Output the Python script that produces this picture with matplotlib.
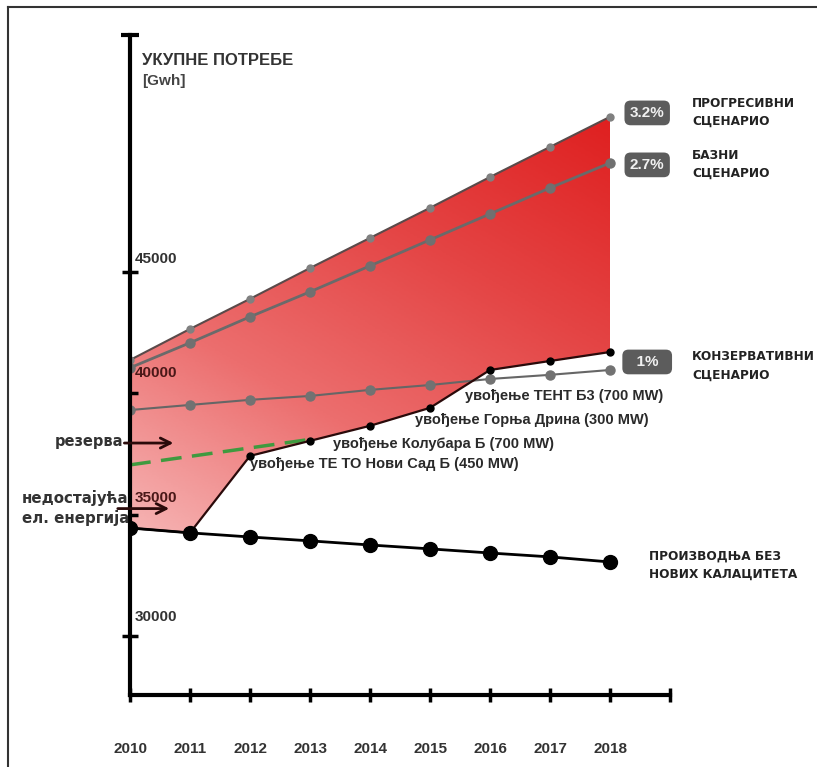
import numpy as np
import matplotlib
matplotlib.use("Agg")
import matplotlib.pyplot as plt
from matplotlib.colors import LinearSegmentedColormap
from matplotlib.patches import Polygon
from matplotlib.lines import Line2D

plt.rcParams['font.family'] = ['Liberation Sans', 'DejaVu Sans']

years = [2010, 2011, 2012, 2013, 2014, 2015, 2016, 2017, 2018]
progressive = [41370, 42650, 43890, 45160, 46400, 47640, 48910, 50150, 51390]
base = [41050, 42080, 43150, 44180, 45250, 46320, 47390, 48460, 49490]
conservative = [39310, 39520, 39730, 39890, 40140, 40340, 40590, 40760, 40960]
no_new = [34450, 34250, 34080, 33920, 33750, 33590, 33420, 33260, 33050]
with_new = [34450, 34250, 37420, 38040, 38660, 39400, 40960, 41330, 41700]
reserve_years = [2010, 2013]
reserve = [37050, 38100]

x_ticks = [2010, 2011, 2012, 2013, 2014, 2015, 2016, 2017, 2018, 2019]
x_labels = ["2010", "2011", "2012", "2013", "2014", "2015", "2016", "2017", "2018", ""]
y_major = [30000, 45000]
y_minor = [35000, 40000]
y_label_vals = [30000, 35000, 40000, 45000]
y_labels = ["30000", "35000", "40000", "45000"]

scenario_pct = ["3.2%", "2.7%", "1%"]
scenario_names = ["ПРОГРЕСИВНИ\nСЦЕНАРИО", "БАЗНИ\nСЦЕНАРИО", "КОНЗЕРВАТИВНИ\nСЦЕНАРИО"]
plants = ["увођење ТЕНТ Б3 (700 MW)", "увођење Горња Дрина (300 MW)",
          "увођење Колубара Б (700 MW)", "увођење ТЕ ТО Нови Сад Б (450 MW)"]

W, H = 817, 767
fig = plt.figure(figsize=(W / 100, H / 100), dpi=100)
fig.patch.set_facecolor("white")
ax = fig.add_axes([130 / W, 72 / H, 540 / W, 660 / H])
ymin, ymax = 27570, 54760
ax.set_xlim(2010, 2019)
ax.set_ylim(ymin, ymax)

# gradient fill between top scenario and production with new plants
gx = np.linspace(0, 1, 200)
gy = np.linspace(0, 1, 200)
GX, GY = np.meshgrid(gx, gy)
t = 0.4 * GX + 0.6 * GY
cmap = LinearSegmentedColormap.from_list(
    "red", ["#f6b4b4", "#ec6e6e", "#e44444", "#df2020"], N=256)
fy0, fy1 = min(with_new), max(progressive)
im = ax.imshow(t, extent=[2010, 2018, fy0, fy1], origin="lower", cmap=cmap,
               aspect="auto", zorder=1, vmin=0, vmax=1)
poly_pts = list(zip(years, progressive)) + list(zip(years[::-1], with_new[::-1]))
poly = Polygon(poly_pts, closed=True, facecolor="none", edgecolor="none")
ax.add_patch(poly)
im.set_clip_path(poly)

ax.plot(reserve_years, reserve, color="#3f9a3f", lw=2.5, dashes=(6, 3), zorder=3)
ax.plot(years, progressive, color="#5a4a4a", lw=1.5, marker="o", ms=5,
        mfc="#808080", mec="#808080", zorder=4)
ax.plot(years, base, color="#6a6a6a", lw=2, marker="o", ms=6.5,
        mfc="#707070", mec="#707070", zorder=4)
ax.plot(years, conservative, color="#666666", lw=1.5, marker="o", ms=6.5,
        mfc="#727272", mec="#727272", zorder=4)
ax.plot(years, with_new, color="#2a0a0a", lw=1.6, marker="o", ms=5,
        mfc="black", mec="black", zorder=5)
ax.plot(years, no_new, color="black", lw=2, marker="o", ms=10,
        mfc="black", mec="black", zorder=5)

# axes
for s in ["top", "right"]:
    ax.spines[s].set_visible(False)
for s in ["left", "bottom"]:
    ax.spines[s].set_linewidth(3)
    ax.spines[s].set_color("black")
    ax.spines[s].set_zorder(6)
ax.set_facecolor("none")

ax.set_xticks(x_ticks)
ax.set_xticklabels(x_labels, fontsize=11, fontweight="bold", color="#333333")
ax.tick_params(axis="x", direction="inout", length=10, width=2.5, pad=29)

ax.set_yticks(y_major)
ax.set_yticklabels([])
ax.set_yticks(y_minor, minor=True)
ax.tick_params(axis="y", which="major", direction="inout", length=12, width=2.5)
ax.tick_params(axis="y", which="minor", direction="in", length=6, width=2.5)
ax.plot([2009.85, 2010.15], [ymax, ymax], color="black", lw=3, clip_on=False,
        solid_capstyle="butt", zorder=6)

label_shift = [780, 700, 840, 540]
for val, sh, lab in zip(y_label_vals, label_shift, y_labels):
    inside = val in (35000, 40000)
    ax.text(2010.08, val + sh, lab, fontsize=11, fontweight="bold",
            color="#4a1818" if inside else "#333333",
            ha="left", va="center", zorder=2 if inside else 6)

ax.text(2010.2, 53700, "УКУПНЕ ПОТРЕБЕ", fontsize=12, fontweight="bold",
        color="#333333", ha="left", va="center")
ax.text(2010.2, 52880, "[Gwh]", fontsize=11, fontweight="bold",
        color="#444444", ha="left", va="center")

label_font = ["DejaVu Sans"]

# scenario labels
pct_y = [51550, 49410, 41290]
name_y = [51570, 49430, 41130]
for pct, py, name, ny in zip(scenario_pct, pct_y, scenario_names, name_y):
    txt = pct if len(pct) > 2 else "  " + pct + "  "
    ax.text(2018.62, py, txt, fontsize=11, fontweight="bold", color="#f0f0f0",
            ha="center", va="center", clip_on=False, zorder=7,
            bbox=dict(boxstyle="round,pad=0.35,rounding_size=0.4",
                      fc="#5c5c5c", ec="none"))
    ax.text(2019.37, ny, name, fontsize=8.7, fontweight="bold", color="#222222",
            ha="left", va="center", linespacing=1.55, clip_on=False,
            family=label_font)
ax.text(2018.65, 32930, "ПРОИЗВОДЊА БЕЗ\nНОВИХ КАЛАЦИТЕТА", fontsize=8.7,
        fontweight="bold", color="#222222", ha="left", va="center",
        linespacing=1.55, clip_on=False, family=label_font)

# plant annotations
plant_pos = [(2015.58, 39900), (2014.75, 38880), (2013.38, 37890), (2012.0, 37080)]
for (px, py), lab in zip(plant_pos, plants):
    ax.text(px, py, lab, fontsize=10.5, fontweight="bold", color="#2a2a2a",
            ha="left", va="center", zorder=7)

# left side notes
fig.text(55 / W, 1 - 441 / H, "резерва", fontsize=10.5, fontweight="bold",
         color="#333333", ha="left", va="center", family=["DejaVu Sans"])
fig.text(22 / W, 1 - 498 / H, "недостајућа", fontsize=10.8, fontweight="bold",
         color="#333333", ha="left", va="center", family=["DejaVu Sans"])
fig.text(22 / W, 1 - 518 / H, "ел. енергија", fontsize=10.8, fontweight="bold",
         color="#333333", ha="left", va="center", family=["DejaVu Sans"])
ax.annotate("", xy=(2010.77, 37950), xytext=(2009.86, 37950),
            arrowprops=dict(arrowstyle="->", color="#2a0a0a", lw=2,
                            mutation_scale=18), zorder=7, annotation_clip=False)
ax.annotate("", xy=(2010.7, 35250), xytext=(2009.75, 35250),
            arrowprops=dict(arrowstyle="->", color="#2a0a0a", lw=2,
                            mutation_scale=18), zorder=7, annotation_clip=False)

# frame
fig.add_artist(Line2D([8 / W, 1], [1 - 7 / H, 1 - 7 / H], color="#333333",
                      lw=1.5, transform=fig.transFigure))
fig.add_artist(Line2D([8 / W, 8 / W], [0, 1 - 7 / H], color="#333333",
                      lw=1.5, transform=fig.transFigure))

fig.savefig("out.png", dpi=100, facecolor="white")
